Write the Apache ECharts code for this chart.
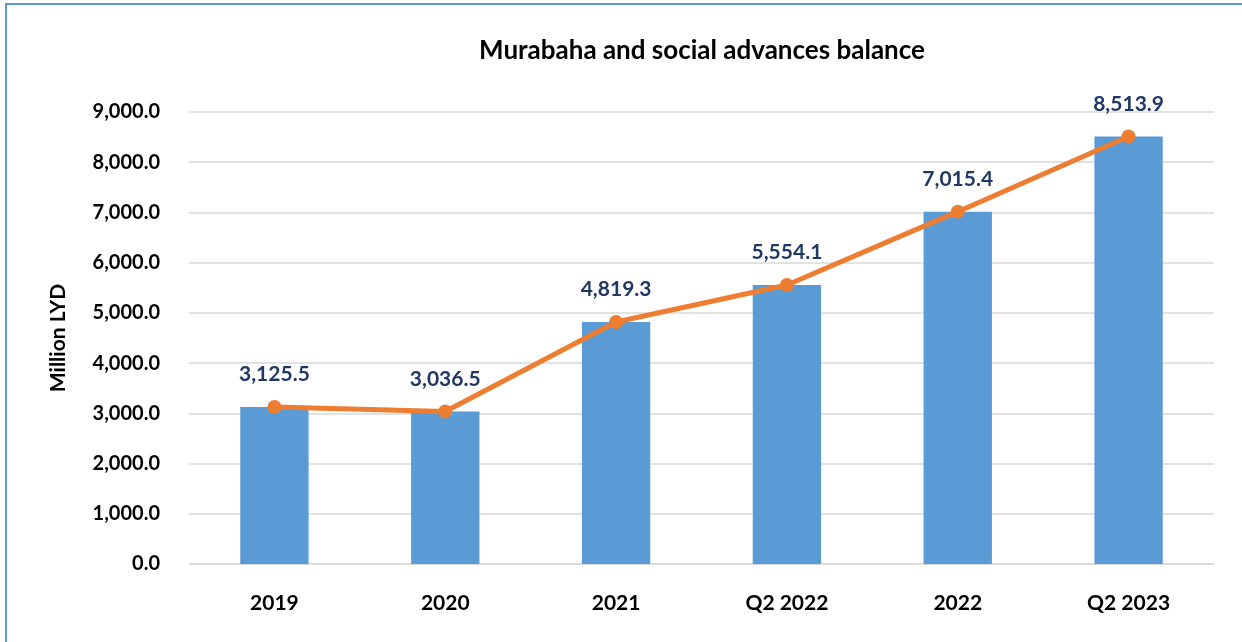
<!DOCTYPE html>
<html>
<head>
<meta charset="utf-8">
<script src="https://cdn.jsdelivr.net/npm/echarts@6/dist/echarts.min.js"></script>
<style>
  html, body { margin: 0; padding: 0; background: #fff; }
  #frame {
    position: absolute; left: 5px; top: 3px; width: 1250px; height: 650px;
    border-left: 2px solid #5b9bd5; border-top: 2px solid #5b9bd5;
  }
  #chart { position: absolute; left: 0; top: 0; width: 1242px; height: 642px; }
</style>
</head>
<body>
<div id="frame"></div>
<div id="chart"></div>
<script>
const categories = ['2019', '2020', '2021', 'Q2 2022', '2022', 'Q2 2023']
const balance = [3125.5, 3036.5, 4819.3, 5554.1, 7015.4, 8513.9]

const fmt = v => v.toLocaleString('en-US', { minimumFractionDigits: 1, maximumFractionDigits: 1 })
const font = 'Lato, "Open Sans", sans-serif'

const chart = echarts.init(document.getElementById('chart'))

chart.setOption({
  animation: false,
  title: {
    text: 'Murabaha and social advances balance',
    left: 697,
    textAlign: 'center',
    top: 33,
    textStyle: { fontFamily: font, fontWeight: 'bold', fontSize: 26, color: '#000' }
  },
  grid: { left: 189, right: 28, top: 112, bottom: 78 },
  xAxis: {
    type: 'category',
    data: categories,
    axisTick: { show: false },
    axisLine: { lineStyle: { color: '#d9d9d9', width: 1.5 } },
    axisLabel: { margin: 29, fontFamily: font, fontWeight: 'bold', fontSize: 21, color: '#000' }
  },
  yAxis: {
    type: 'value',
    min: 0,
    max: 9000,
    interval: 1000,
    name: 'Million LYD',
    nameLocation: 'middle',
    nameGap: 120,
    nameTextStyle: { fontFamily: font, fontWeight: 'bold', fontSize: 21, color: '#000' },
    axisLabel: { margin: 29, fontFamily: font, fontWeight: 'bold', fontSize: 20, color: '#000', formatter: fmt },
    splitLine: { lineStyle: { color: '#d9d9d9', width: 1.5 } }
  },
  series: [
    {
      type: 'bar',
      data: balance,
      barWidth: '40%',
      itemStyle: { color: '#5b9bd5' }
    },
    {
      type: 'line',
      data: balance,
      symbol: 'circle',
      symbolSize: 14,
      lineStyle: { color: '#ed7d31', width: 5 },
      itemStyle: { color: '#ed7d31' },
      label: {
        show: true,
        position: 'top',
        distance: 15,
        formatter: p => fmt(p.value),
        fontFamily: font,
        fontWeight: 'bold',
        fontSize: 21,
        color: '#1f3864'
      }
    }
  ]
})
</script>
</body>
</html>
